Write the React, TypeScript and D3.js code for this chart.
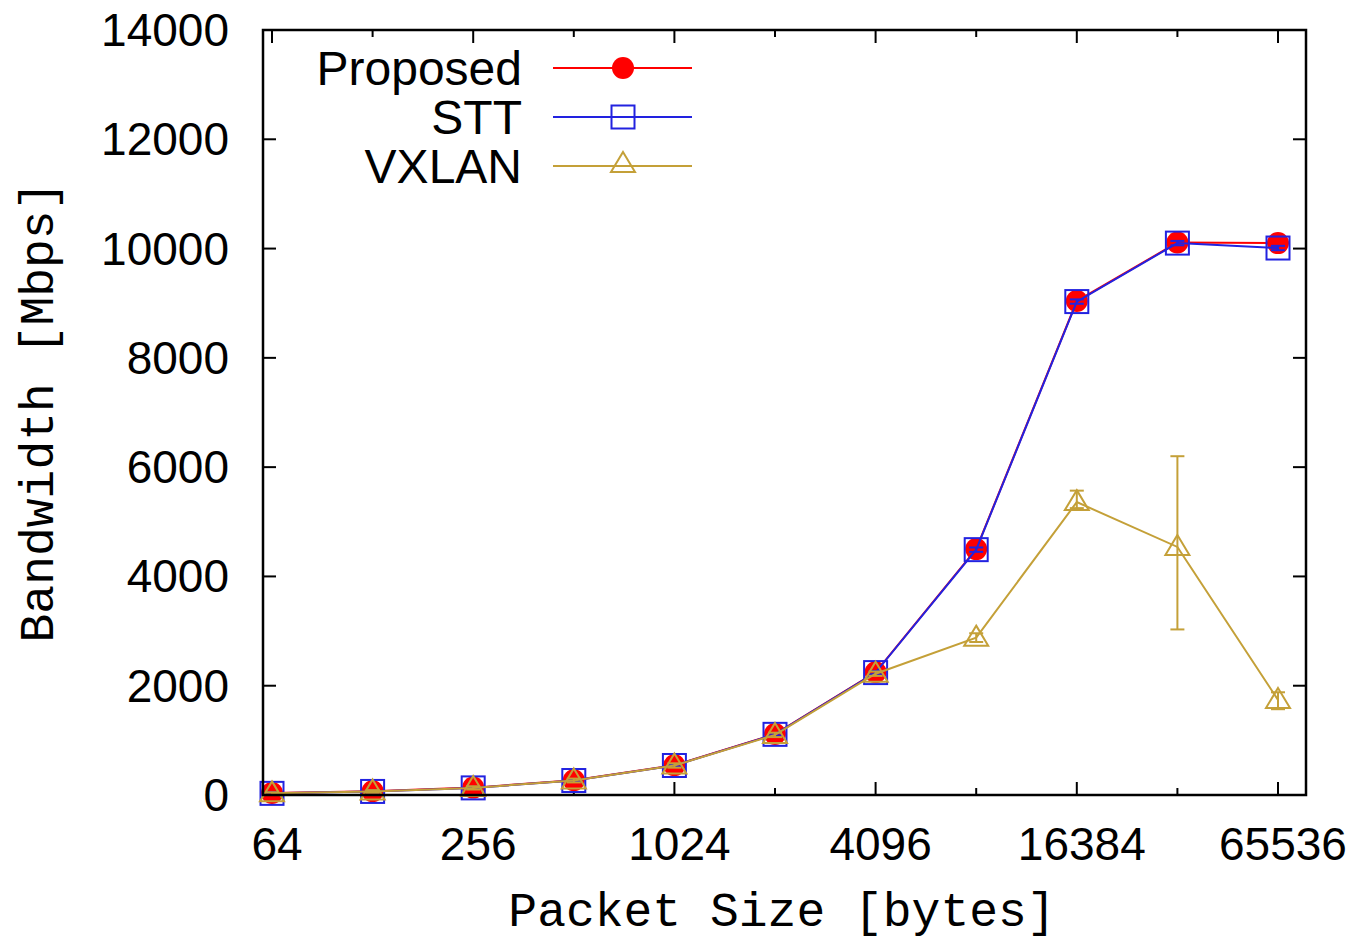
import React from "react";
import * as d3 from "d3";

const packetSizes = [64, 128, 256, 512, 1024, 2048, 4096, 8192, 16384, 32768, 65536];
const proposedValues = [35, 70, 135, 270, 545, 1115, 2245, 4500, 9040, 10110, 10100];
const proposedErr = [20, 20, 20, 20, 20, 20, 30, 40, 40, 40, 40];
const sttValues = [30, 65, 130, 265, 540, 1110, 2240, 4490, 9030, 10100, 10010];
const sttErr = [20, 20, 20, 20, 20, 20, 30, 40, 40, 40, 40];
const vxlanValues = [30, 65, 130, 265, 540, 1100, 2220, 2880, 5360, 4540, 1740];
const vxlanLow = [10, 40, 100, 230, 500, 1060, 2180, 2800, 5250, 3030, 1570];
const vxlanHigh = [50, 90, 160, 300, 580, 1140, 2260, 2960, 5570, 6200, 1880];
const yTicks = [0, 2000, 4000, 6000, 8000, 10000, 12000, 14000];
const xTickLabels = [64, 256, 1024, 4096, 16384, 65536];
const seriesNames = ["Proposed", "STT", "VXLAN"];

const RED = "#ff0000";
const BLUE = "#2222e0";
const GOLD = "#c4a038";

const L = 263, R = 1306, T = 30, B = 795;

export default function App() {
  const x = d3.scaleLog().base(2).domain([64, 65536]).range([272, 1278]);
  const y = d3.scaleLinear().domain([0, 14000]).range([B, T]);
  const line = (vals: number[]) =>
    d3.line<number>().x((_, i) => x(packetSizes[i])).y((v) => y(v))(vals) || "";

  const tri = (cx: number, cy: number) =>
    `M${cx},${cy - 12}L${cx + 12},${cy + 8}L${cx - 12},${cy + 8}Z`;

  const errBar = (i: number, lo: number, hi: number, color: string, key: string) => {
    const cx = x(packetSizes[i]);
    return (
      <g key={key} stroke={color} strokeWidth={2}>
        <line x1={cx} x2={cx} y1={y(lo)} y2={y(hi)} />
        <line x1={cx - 7} x2={cx + 7} y1={y(lo)} y2={y(lo)} />
        <line x1={cx - 7} x2={cx + 7} y1={y(hi)} y2={y(hi)} />
      </g>
    );
  };

  const font = "'Liberation Sans', Arial, Helvetica, sans-serif";
  const mono = "'Liberation Mono', 'DejaVu Sans Mono', monospace";

  const legendY = [68, 117, 166];
  const legendColors = [RED, BLUE, GOLD];

  return (
    <svg width={1357} height={942} style={{ display: "block", position: "absolute", left: 0, top: 0, background: "#fff" }}>
      <rect x={0} y={0} width={1357} height={942} fill="#fff" />
      {/* ticks */}
      <g stroke="#000" strokeWidth={2}>
        {yTicks.map((t) => (
          <g key={"yt" + t}>
            <line x1={L} x2={L + 13} y1={y(t)} y2={y(t)} />
            <line x1={R} x2={R - 13} y1={y(t)} y2={y(t)} />
          </g>
        ))}
        {packetSizes.map((t) => {
          const major = xTickLabels.includes(t);
          const len = major ? 13 : 7;
          return (
            <g key={"xt" + t}>
              <line x1={x(t)} x2={x(t)} y1={B} y2={B - len} />
              <line x1={x(t)} x2={x(t)} y1={T} y2={T + len} />
            </g>
          );
        })}
      </g>
      {/* tick labels */}
      <g fontFamily={font} fontSize={46} fill="#000">
        {yTicks.map((t) => (
          <text key={"yl" + t} x={229} y={y(t)} textAnchor="end" dominantBaseline="central">
            {t}
          </text>
        ))}
        {xTickLabels.map((t) => (
          <text key={"xl" + t} x={x(t) + 5} y={860} textAnchor="middle">
            {t}
          </text>
        ))}
      </g>
      {/* axis titles */}
      <text x={782} y={926} fontFamily={mono} fontSize={48} textAnchor="middle" fill="#000">
        Packet Size [bytes]
      </text>
      <text
        transform={`translate(53,412) rotate(-90)`}
        fontFamily={mono}
        fontSize={48}
        textAnchor="middle"
        fill="#000"
      >
        Bandwidth [Mbps]
      </text>

      {/* Proposed */}
      <path d={line(proposedValues)} fill="none" stroke={RED} strokeWidth={2} />
      {proposedValues.map((v, i) =>
        errBar(i, v - proposedErr[i], v + proposedErr[i], RED, "pe" + i)
      )}
      {proposedValues.map((v, i) => (
        <circle key={"pc" + i} cx={x(packetSizes[i])} cy={y(v)} r={11} fill={RED} />
      ))}

      {/* STT */}
      <path d={line(sttValues)} fill="none" stroke={BLUE} strokeWidth={2} />
      {sttValues.map((v, i) => errBar(i, v - sttErr[i], v + sttErr[i], BLUE, "se" + i))}
      {sttValues.map((v, i) => (
        <rect
          key={"sr" + i}
          x={x(packetSizes[i]) - 11.5}
          y={y(v) - 11.5}
          width={23}
          height={23}
          fill="none"
          stroke={BLUE}
          strokeWidth={2}
        />
      ))}

      {/* VXLAN */}
      <path d={line(vxlanValues)} fill="none" stroke={GOLD} strokeWidth={2} />
      {vxlanValues.map((v, i) => errBar(i, vxlanLow[i], vxlanHigh[i], GOLD, "ve" + i))}
      {vxlanValues.map((v, i) => (
        <path key={"vt" + i} d={tri(x(packetSizes[i]), y(v))} fill="none" stroke={GOLD} strokeWidth={2} />
      ))}

      {/* legend */}
      <g fontFamily={font} fontSize={48} fill="#000">
        {seriesNames.map((n, i) => (
          <g key={"lg" + n}>
            <text x={522} y={legendY[i]} textAnchor="end" dominantBaseline="central">
              {n}
            </text>
            <line x1={553} x2={692} y1={legendY[i]} y2={legendY[i]} stroke={legendColors[i]} strokeWidth={2} />
            {i === 0 && <circle cx={623} cy={legendY[i]} r={11} fill={RED} />}
            {i === 1 && (
              <rect x={623 - 11.5} y={legendY[i] - 11.5} width={23} height={23} fill="none" stroke={BLUE} strokeWidth={2} />
            )}
            {i === 2 && <path d={tri(623, legendY[i] - 2)} fill="none" stroke={GOLD} strokeWidth={2} />}
          </g>
        ))}
      </g>

      {/* frame */}
      <rect x={L} y={T} width={R - L} height={B - T} fill="none" stroke="#000" strokeWidth={2.5} />
    </svg>
  );
}
